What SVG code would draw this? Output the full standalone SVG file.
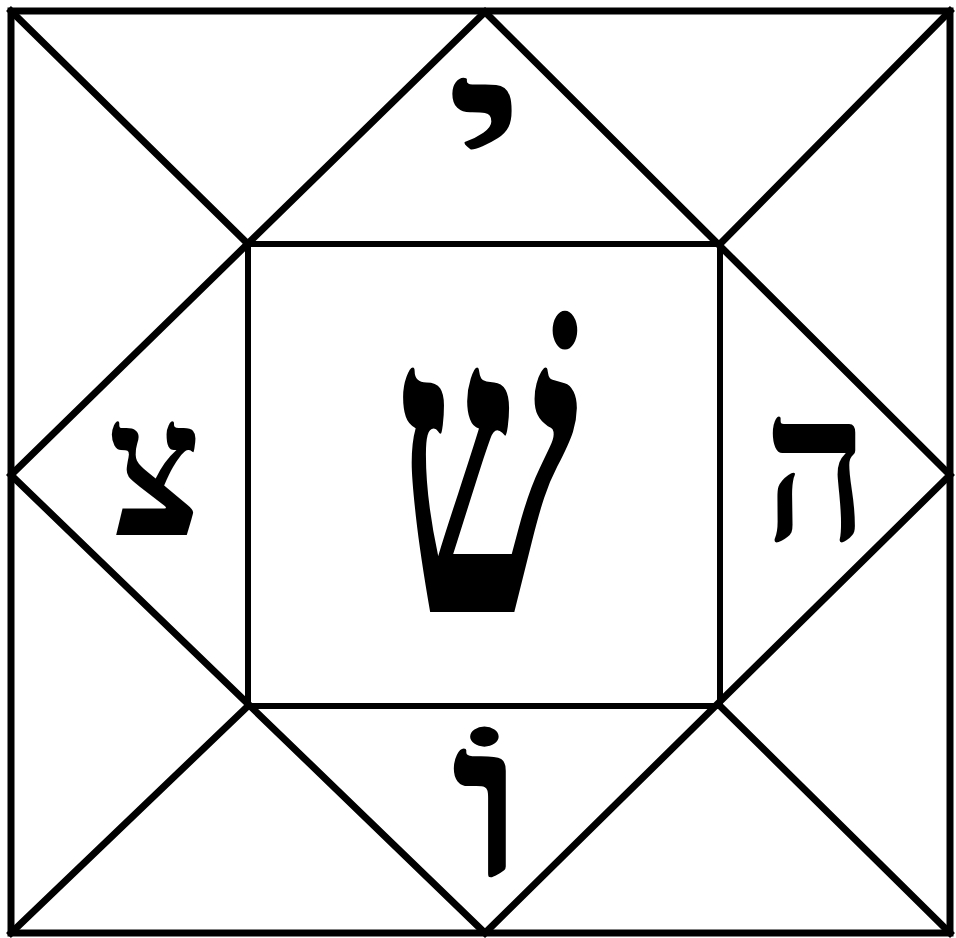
<svg xmlns="http://www.w3.org/2000/svg" width="956" height="938" viewBox="0 0 956 938">
<style>
.ln{stroke:#000;stroke-width:7;fill:none;stroke-linecap:square}
.in{stroke:#000;stroke-width:6;fill:none}
.he{font-family:"Liberation Serif","DejaVu Serif",serif;font-weight:bold;fill:#000;text-anchor:middle}
</style>
<rect width="956" height="938" fill="#fff"/>
<g id="connectors">
<rect class="ln" x="11" y="11" width="939" height="922"/>
<path class="ln" d="M485,12 L11,475 L485,933 L950,475 Z"/>
<path class="ln" d="M11,11 L248,244 M950,11 L720,244 M11,933 L248,706 M950,933 L720,706"/>
</g>
<g id="center"><rect class="in" x="248" y="244" width="472" height="462"/><text class="he" font-size="320" transform="translate(486,612) scale(0.82,1.3)">שׁ</text></g>
<g id="top"><text class="he" font-size="192" transform="translate(486,196) scale(1.65,1.05)">י</text></g>
<g id="right"><text class="he" font-size="182" transform="translate(816,540) scale(1,1.15)">ה</text></g>
<g id="left"><text class="he" font-size="181" transform="translate(155,535) scale(1,1.07)">צ</text></g>
<g id="bottom"><text class="he" font-size="190" transform="translate(489,876) scale(1.6,1.14)">וֹ</text></g>
</svg>
